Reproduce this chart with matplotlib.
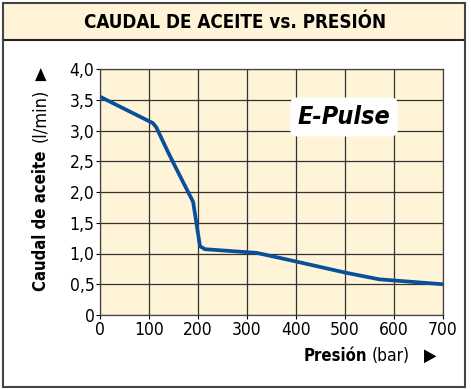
import matplotlib.pyplot as plt
from matplotlib.patches import Rectangle

# flujo de aceite frente a presión
presion = [0, 108, 115, 140, 155, 190, 204, 214, 320, 400, 500, 570, 700]
caudal = [3.55, 3.12, 3.05, 2.63, 2.39, 1.84, 1.12, 1.07, 1.01, 0.87, 0.69, 0.58, 0.50]
xticks = [0, 100, 200, 300, 400, 500, 600, 700]
yticks = [0, 0.5, 1.0, 1.5, 2.0, 2.5, 3.0, 3.5, 4.0]
ylabels = ['0', '0,5', '1,0', '1,5', '2,0', '2,5', '3,0', '3,5', '4,0']

plt.rcParams['font.family'] = ['DejaVu Sans']
plt.rcParams['font.stretch'] = 'condensed'
beige = '#FFF4D8'

fig = plt.figure(figsize=(4.71, 3.89), dpi=100)
W, H = 471, 389

# marco y banda del título
fig.patches.append(Rectangle((3 / W, 1 - 40 / H), 462 / W, 37 / H, transform=fig.transFigure,
                             facecolor=beige, edgecolor='none', zorder=0))
fig.patches.append(Rectangle((3 / W, 2 / H), 462 / W, 384 / H, transform=fig.transFigure,
                             facecolor='none', edgecolor='#444444', lw=1.5, zorder=5))
fig.lines.append(plt.Line2D([3 / W, 465 / W], [1 - 40 / H] * 2, transform=fig.transFigure,
                            color='#222222', lw=1.5))
fig.text(235 / W, 1 - 22 / H, 'CAUDAL DE ACEITE vs. PRESIÓN', ha='center', va='center',
         fontsize=13.5, fontweight='bold')

ax = fig.add_axes([100 / W, 1 - 315 / H, 343 / W, 246 / H])
ax.set_facecolor(beige)
ax.plot(presion, caudal, color='#0A4F9A', lw=2.7, solid_capstyle='round', solid_joinstyle='round', zorder=3)
ax.set_xlim(0, 700)
ax.set_ylim(0, 4.0)
ax.set_xticks(xticks)
ax.set_yticks(yticks)
ax.set_yticklabels(ylabels)
ax.grid(True, color='#333333', lw=0.9)
ax.tick_params(labelsize=12.5, length=3, width=0.8, pad=1)
for s in ax.spines.values():
    s.set_color('#444444')
    s.set_linewidth(0.9)

ax.text(498, 3.22, 'E-Pulse', ha='center', va='center', fontsize=18, fontweight='bold',
        style='italic', zorder=4,
        bbox=dict(boxstyle='round,pad=0.3,rounding_size=0.3', facecolor='white', edgecolor='none'))

# etiquetas de los ejes
fig.text(41 / W, 1 - 291 / H, 'Caudal de aceite', rotation=90, ha='center', va='bottom',
         fontsize=12, fontweight='bold')
fig.text(41 / W, 1 - 142 / H, '(l/min)', rotation=90, ha='center', va='bottom', fontsize=13)
fig.text(41 / W, 1 - 75 / H, '▲', ha='center', va='center', fontsize=12)
fig.text(367 / W, 1 - 356 / H, 'Presión', ha='right', va='center', fontsize=12, fontweight='bold')
fig.text(372 / W, 1 - 356 / H, '(bar)', ha='left', va='center', fontsize=12.5)
fig.text(430 / W, 1 - 356 / H, '▶', ha='center', va='center', fontsize=13)

plt.savefig('out.png', dpi=100)
